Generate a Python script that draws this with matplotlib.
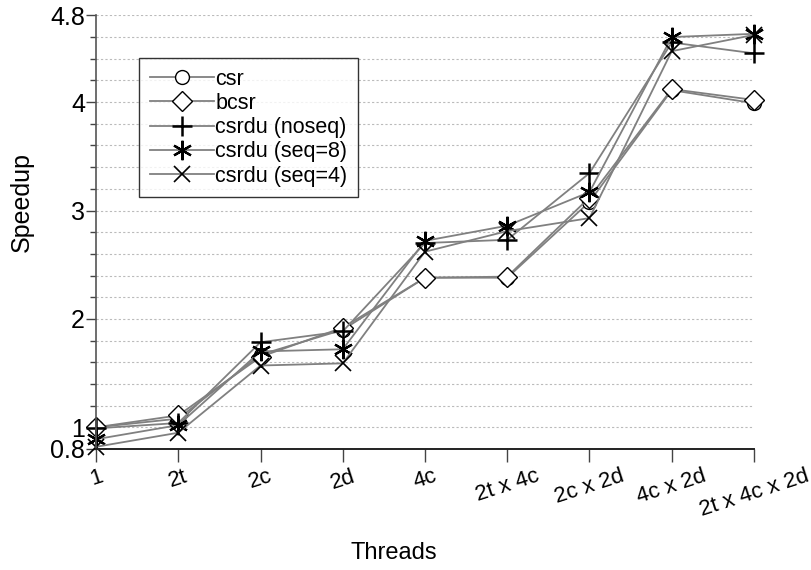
import matplotlib
matplotlib.use("Agg")
import matplotlib.pyplot as plt
import numpy as np

plt.rcParams['font.family'] = ['Liberation Sans', 'DejaVu Sans']

# datos
threads = ["1", "2t", "2c", "2d", "4c", "2t x 4c", "2c x 2d", "4c x 2d", "2t x 4c x 2d"]
csr = [1.00, 1.08, 1.67, 1.90, 2.38, 2.38, 3.08, 4.11, 3.99]
bcsr = [1.00, 1.11, 1.65, 1.92, 2.38, 2.39, 3.12, 4.12, 4.02]
csrdu_noseq = [0.99, 1.04, 1.785, 1.885, 2.70, 2.73, 3.345, 4.55, 4.45]
csrdu_seq8 = [0.89, 1.02, 1.70, 1.72, 2.72, 2.86, 3.17, 4.60, 4.63]
csrdu_seq4 = [0.82, 0.95, 1.57, 1.59, 2.62, 2.81, 2.93, 4.47, 4.62]

series = [
    ("csr", csr, dict(marker='o', markersize=10, markerfacecolor='white')),
    ("bcsr", bcsr, dict(marker='D', markersize=10, markerfacecolor='white')),
    ("csrdu (noseq)", csrdu_noseq, dict(marker='+', markersize=15, markeredgewidth=1.8)),
    ("csrdu (seq=8)", csrdu_seq8, dict(marker=(6, 2, 0), markersize=14, markeredgewidth=1.6)),
    ("csrdu (seq=4)", csrdu_seq4, dict(marker='x', markersize=11, markeredgewidth=1.2)),
]

fig = plt.figure(figsize=(8.11, 5.70), dpi=100)
ax = fig.add_axes([0.1184, 0.2123, 0.8113, 0.7607])

x = np.arange(len(threads))
for name, vals, style in series:
    ax.plot(x, vals, color='#808080', linewidth=1.3, markeredgecolor='black',
            label=name, clip_on=False, **style)

ax.set_xlim(0, len(threads) - 1)
ax.set_ylim(0.8, 4.8)

ax.set_yticks([0.8, 1, 2, 3, 4, 4.8])
ax.set_yticklabels(["0.8", "1", "2", "3", "4", "4.8"])
ax.set_yticks(np.arange(0.8, 4.81, 0.2), minor=True)
ax.yaxis.grid(True, which='both', color='#bbbbbb', linestyle=(0, (2, 2)), linewidth=0.8)
ax.set_axisbelow(True)

ax.set_xticks(x)
ax.set_xticklabels(threads, rotation=18, ha='center')

ax.tick_params(axis='y', which='major', length=7, width=1, color='#444444', labelsize=18, pad=1)
ax.tick_params(axis='y', which='minor', length=4, width=1, color='#444444')
ax.tick_params(axis='x', length=9, width=1, color='#444444', labelsize=16, pad=3)

for s in ['top', 'right']:
    ax.spines[s].set_visible(False)
ax.spines['left'].set_color('#555555')
ax.spines['bottom'].set_color('#222222')
ax.spines['left'].set_linewidth(1.2)
ax.spines['bottom'].set_linewidth(1.4)

ax.set_ylabel("Speedup", fontsize=18)
ax.set_xlabel("Threads", fontsize=17)
ax.yaxis.set_label_coords(-0.094, 0.57)
ax.xaxis.set_label_coords(0.453, -0.215)

leg = ax.legend(loc='upper left', bbox_to_anchor=(0.065, 0.902), borderaxespad=0,
                fontsize=15.5, handlelength=3.0, handletextpad=0.05, labelspacing=0.15,
                borderpad=0.5, fancybox=False, frameon=True)
leg.get_frame().set_edgecolor('black')
leg.get_frame().set_linewidth(1.0)

fig.savefig("out.png", dpi=100)
